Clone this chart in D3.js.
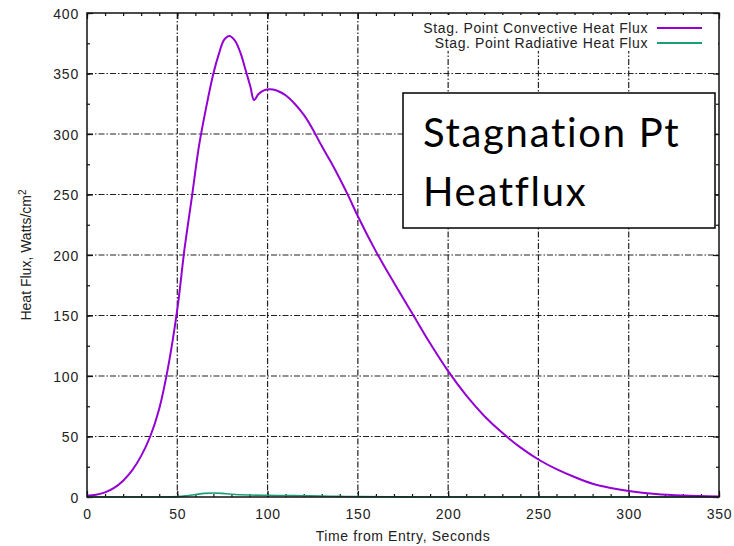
<!DOCTYPE html>
<html>
<head>
<meta charset="utf-8">
<script src="https://cdn.jsdelivr.net/npm/d3@7"></script>
<style>
  html, body { margin: 0; padding: 0; background: #fff; }
  svg { display: block; }
</style>
</head>
<body>
<div id="chart"></div>
<script>
// time (s) and heat flux (W/cm^2)
const convTime = [0, 5, 10, 15, 20, 25, 30, 35, 40, 45, 50, 54, 58, 62, 66, 70, 73, 76, 79, 82, 85, 88, 90.5, 92.5,
  95, 98, 101, 105, 110, 115, 120, 125, 130, 135, 140, 145, 150, 160, 170, 180, 190, 200, 210, 220, 230,
  240, 250, 260, 270, 280, 290, 300, 315, 330, 350];
const convFlux = [1, 1.8, 3.8, 7.5, 13.5, 22, 34, 50, 73, 108, 155, 205, 247, 290, 322, 350, 366, 378, 381, 377, 367, 352, 339, 328,
  333, 336, 337, 336, 332, 325, 316, 304, 290, 277, 263, 248, 232, 203, 177, 152, 127, 104, 84, 67, 53,
  41, 31, 23, 16.5, 11, 7.5, 5, 2.5, 1.2, 0.4];

const radTime = [0, 40, 50, 55, 60, 65, 70, 75, 80, 90, 100, 110, 120, 130, 140, 150, 175, 200, 350];
const radFlux = [0, 0, 0.3, 1, 2, 3, 3.3, 3, 2.3, 1.6, 1.4, 1.2, 1, 0.8, 0.5, 0.3, 0.1, 0, 0];

const xTicks = [0, 50, 100, 150, 200, 250, 300, 350];
const yTicks = [0, 50, 100, 150, 200, 250, 300, 350, 400];
const xMinor = d3.range(0, 351, 10);
const yMinor = d3.range(0, 401, 25);

const seriesNames = ["Stag. Point Convective Heat Flux", "Stag. Point Radiative Heat Flux"];
const seriesColors = ["#9400d3", "#1a9e77"];

const width = 734, height = 546;
const margin = { top: 13, right: 15, bottom: 49, left: 87 };
const innerWidth = width - margin.left - margin.right;
const innerHeight = height - margin.top - margin.bottom;

const svg = d3.select("#chart").append("svg")
  .attr("width", width)
  .attr("height", height)
  .style("font-family", "'Liberation Sans', Arial, sans-serif");

svg.append("rect").attr("width", width).attr("height", height).attr("fill", "#fff");

const g = svg.append("g").attr("transform", `translate(${margin.left},${margin.top})`);

const x = d3.scaleLinear().domain([0, 350]).range([0, innerWidth]);
const y = d3.scaleLinear().domain([0, 400]).range([innerHeight, 0]);

// grid (gnuplot dash-dot)
const gridDash = "6,2,1.5,2";
g.append("g").selectAll("line")
  .data(xTicks.slice(1, -1))
  .join("line")
  .attr("x1", (d) => x(d)).attr("x2", (d) => x(d))
  .attr("y1", 0).attr("y2", innerHeight)
  .attr("stroke", "#222").attr("stroke-width", 1.2)
  .attr("stroke-dasharray", gridDash);
g.append("g").selectAll("line")
  .data(yTicks.slice(1, -1))
  .join("line")
  .attr("y1", (d) => y(d)).attr("y2", (d) => y(d))
  .attr("x1", 0).attr("x2", innerWidth)
  .attr("stroke", "#222").attr("stroke-width", 1.2)
  .attr("stroke-dasharray", gridDash);

// key area hides the grid behind it
svg.append("rect")
  .attr("x", 416).attr("y", 15)
  .attr("width", 302).attr("height", 36)
  .attr("fill", "#fff");

// ticks, inward, on all four sides
function styleAxis(sel) {
  sel.select(".domain").remove();
  sel.selectAll("line").attr("stroke", "#111").attr("stroke-width", 1.2);
  sel.selectAll("text").attr("fill", "#222").attr("font-size", 14).attr("letter-spacing", 0.8);
}

g.append("g").attr("transform", `translate(0,${innerHeight})`)
  .call(d3.axisBottom(x).tickValues(xMinor).tickSize(-3).tickFormat(""))
  .call(styleAxis);
g.append("g").attr("transform", `translate(0,${innerHeight})`)
  .call(d3.axisBottom(x).tickValues(xTicks).tickSize(-6).tickFormat(d3.format("d")))
  .call(styleAxis)
  .call((a) => a.selectAll("text").attr("dy", null).attr("y", 22));
g.append("g")
  .call(d3.axisTop(x).tickValues(xMinor).tickSize(-3).tickFormat(""))
  .call(styleAxis);
g.append("g")
  .call(d3.axisTop(x).tickValues(xTicks).tickSize(-6).tickFormat(""))
  .call(styleAxis);

g.append("g")
  .call(d3.axisLeft(y).tickValues(yMinor).tickSize(-3).tickFormat(""))
  .call(styleAxis);
g.append("g")
  .call(d3.axisLeft(y).tickValues(yTicks).tickSize(-6).tickPadding(8).tickFormat(d3.format("d")))
  .call(styleAxis)
  .call((a) => a.selectAll("text").attr("dy", null).attr("y", 5));
g.append("g").attr("transform", `translate(${innerWidth},0)`)
  .call(d3.axisRight(y).tickValues(yMinor).tickSize(-3).tickFormat(""))
  .call(styleAxis);
g.append("g").attr("transform", `translate(${innerWidth},0)`)
  .call(d3.axisRight(y).tickValues(yTicks).tickSize(-6).tickFormat(""))
  .call(styleAxis);

// lines
const line = d3.line()
  .x((d) => x(d[0]))
  .y((d) => y(d[1]))
  .curve(d3.curveCatmullRom.alpha(0.5));

const series = [
  d3.zip(radTime, radFlux),
  d3.zip(convTime, convFlux),
];
g.append("path")
  .attr("d", line(series[0]))
  .attr("fill", "none")
  .attr("stroke", seriesColors[1])
  .attr("stroke-width", 1.6);
g.append("path")
  .attr("d", line(series[1]))
  .attr("fill", "none")
  .attr("stroke", seriesColors[0])
  .attr("stroke-width", 2);

// border
g.append("rect")
  .attr("width", innerWidth).attr("height", innerHeight)
  .attr("fill", "none").attr("stroke", "#111").attr("stroke-width", 1.5);

// legend
const legend = svg.append("g").selectAll("g")
  .data(seriesNames)
  .join("g")
  .attr("transform", (d, i) => `translate(648,${28 + i * 15})`);
legend.append("text")
  .attr("text-anchor", "end")
  .attr("y", 5)
  .attr("font-size", 14)
  .attr("letter-spacing", 0.6)
  .attr("fill", "#222")
  .text((d) => d);
legend.append("line")
  .attr("x1", 9).attr("x2", 54)
  .attr("stroke", (d, i) => seriesColors[i])
  .attr("stroke-width", 2);

// axis titles
svg.append("text")
  .attr("x", 403)
  .attr("y", 541)
  .attr("text-anchor", "middle")
  .attr("font-size", 14)
  .attr("letter-spacing", 0.6)
  .attr("fill", "#222")
  .text("Time from Entry, Seconds");

const yTitle = svg.append("text")
  .attr("transform", `translate(31,${margin.top + innerHeight / 2}) rotate(-90)`)
  .attr("text-anchor", "middle")
  .attr("font-size", 14)
  .attr("fill", "#222");
yTitle.append("tspan").text("Heat Flux, Watts/cm");
yTitle.append("tspan").attr("baseline-shift", "super").attr("font-size", 10).text("2");

// inset annotation box
const box = svg.append("g").attr("transform", "translate(403,93)");
box.append("rect")
  .attr("width", 312).attr("height", 135)
  .attr("fill", "#fff").attr("stroke", "#000").attr("stroke-width", 1.5);
box.selectAll("text")
  .data(["Stagnation Pt", "Heatflux"])
  .join("text")
  .attr("x", 20)
  .attr("y", (d, i) => 54 + i * 59)
  .attr("font-family", "Lato, 'Open Sans', sans-serif")
  .attr("font-size", 40)
  .attr("letter-spacing", 1.7)
  .attr("fill", "#000")
  .text((d) => d);
</script>
</body>
</html>
